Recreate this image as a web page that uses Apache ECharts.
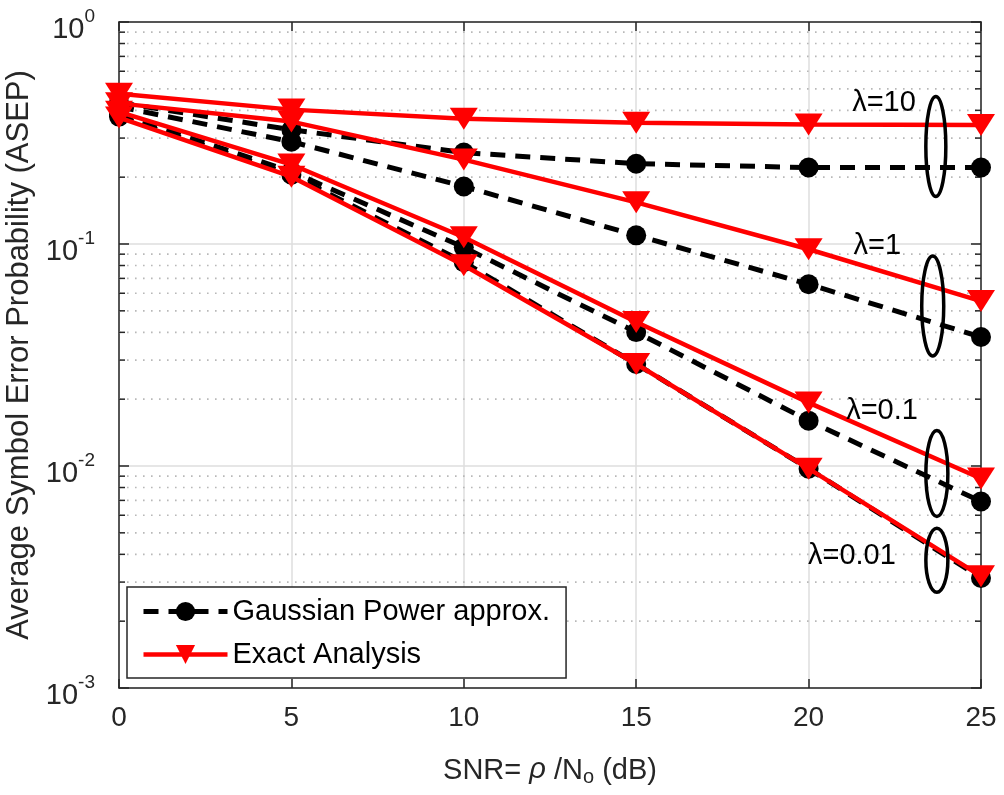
<!DOCTYPE html>
<html>
<head>
<meta charset="utf-8">
<script src="https://cdn.jsdelivr.net/npm/echarts@6/dist/echarts.min.js"></script>
<style>
  html, body { margin: 0; padding: 0; background: #fff; }
  #chart { width: 1004px; height: 795px; }
</style>
</head>
<body>
<div id="chart"></div>
<script>
// SNR grid (dB)
const snr = [0, 5, 10, 15, 20, 25];
const xTicks = [0, 5, 10, 15, 20, 25];
// decade exponents labelled on the ASEP axis
const yTickExponents = [-3, -2, -1, 0];

// Gaussian power approximation, one curve per lambda
const gaussL10  = [0.433, 0.327, 0.258, 0.230, 0.221, 0.221];
const gaussL1   = [0.415, 0.289, 0.1816, 0.1094, 0.0659, 0.0381];
const gaussL01  = [0.385, 0.212, 0.0966, 0.0401, 0.0160, 0.00692];
const gaussL001 = [0.375, 0.205, 0.0828, 0.0288, 0.00973, 0.00313];

// exact analysis, one curve per lambda
const exactL10  = [0.475, 0.403, 0.367, 0.352, 0.345, 0.344];
const exactL1   = [0.430, 0.356, 0.240, 0.154, 0.0947, 0.0553];
const exactL01  = [0.394, 0.228, 0.1072, 0.0445, 0.0193, 0.00878];
const exactL001 = [0.371, 0.201, 0.0802, 0.0288, 0.00973, 0.00319];

// lambda annotations (data coordinates)
const lambdaLabels = ['λ=10', 'λ=1', 'λ=0.1', 'λ=0.01'];
const labelSnr  = [23.11, 22.68, 23.17, 22.53];
const labelAsep = [0.433, 0.0977, 0.01774, 0.00392];
const ringSnr   = [23.69, 23.60, 23.72, 23.72];
const ringAsep  = [0.2747, 0.0525, 0.00925, 0.00376];

const FONT = '"Liberation Sans", Arial, Helvetica, sans-serif';
const AXIS_COLOR = '#262626';
const ringRadius = [[10, 50], [11, 50], [11, 43], [11, 32]];

const minorValues = [];
[-3, -2, -1].forEach(function (e) {
  [2, 3, 4, 5, 6, 7, 8, 9].forEach(function (m) {
    minorValues.push(m * Math.pow(10, e));
  });
});

function pairs(values) {
  return snr.map(function (x, i) { return [x, values[i]]; });
}

const GAUSS = 'Gaussian Power approx.';
const EXACT = 'Exact Analysis';
const triangleDown = 'path://M0,0L28,0L14,22Z';

function gaussSeries(values) {
  return {
    name: GAUSS, type: 'line', data: pairs(values),
    symbol: 'circle', symbolSize: 20, showSymbol: true, clip: false,
    lineStyle: { color: '#000', width: 5, type: [15, 10] },
    itemStyle: { color: '#000' },
    emphasis: { disabled: true }, z: 3
  };
}
function exactSeries(values) {
  return {
    name: EXACT, type: 'line', data: pairs(values),
    symbol: triangleDown, symbolSize: [28, 22], showSymbol: true, clip: false,
    lineStyle: { color: '#ff0000', width: 4.5, type: 'solid' },
    itemStyle: { color: '#ff0000' },
    emphasis: { disabled: true }, z: 4
  };
}

const chart = echarts.init(document.getElementById('chart'), null, { renderer: 'canvas' });

const xAxisBase = {
  type: 'value', min: 0, max: 25, interval: 5,
  axisLine: { show: true, onZero: false, lineStyle: { color: AXIS_COLOR, width: 1.5 } },
  axisTick: { show: true, inside: true, length: 9, lineStyle: { color: AXIS_COLOR, width: 1.5 } }
};
const yAxisBase = {
  type: 'log', logBase: 10, min: 0.001, max: 1,
  axisLine: { show: true, onZero: false, lineStyle: { color: AXIS_COLOR, width: 1.5 } },
  axisTick: { show: true, inside: true, length: 10, lineStyle: { color: AXIS_COLOR, width: 1.5 } }
};

chart.setOption({
  animation: false,
  backgroundColor: '#fff',
  textStyle: { fontFamily: FONT },
  grid: { left: 119, right: 23, top: 22, bottom: 107, containLabel: false, outerBoundsMode: 'none' },
  xAxis: [
    Object.assign({}, xAxisBase, {
      position: 'bottom',
      name: 'SNR= {i|ρ} /N{sub|o} (dB)',
      nameLocation: 'middle', nameGap: 67,
      nameTextStyle: {
        fontSize: 29, color: AXIS_COLOR, fontFamily: FONT,
        rich: {
          i: { fontSize: 29, fontStyle: 'italic', fontFamily: FONT, color: AXIS_COLOR, verticalAlign: 'top', lineHeight: 32 },
          sub: { fontSize: 20, fontFamily: FONT, color: AXIS_COLOR, verticalAlign: 'bottom', lineHeight: 20, padding: [22, 0, 0, 0] }
        }
      },
      axisLabel: {
        show: true, margin: 16, fontSize: 28, color: AXIS_COLOR, fontFamily: FONT,
        formatter: function (v) { return xTicks.indexOf(v) >= 0 ? String(v) : ''; }
      },
      splitLine: { show: true, lineStyle: { color: '#dedede', width: 1.5 } }
    }),
    Object.assign({}, xAxisBase, {
      position: 'top',
      axisLabel: { show: false },
      splitLine: { show: false }
    })
  ],
  yAxis: [
    Object.assign({}, yAxisBase, {
      position: 'left',
      name: 'Average Symbol Error Probability (ASEP)',
      nameLocation: 'middle', nameGap: 82, nameRotate: 90,
      nameTextStyle: { fontSize: 31, color: AXIS_COLOR, fontFamily: FONT },
      axisLabel: {
        show: true, margin: 24, fontFamily: FONT,
        formatter: function (v) {
          const e = Math.round(Math.log10(v));
          if (yTickExponents.indexOf(e) < 0) return '';
          return '{b|10}{s|' + e + '}';
        },
        rich: {
          b: { fontSize: 29, fontFamily: FONT, color: AXIS_COLOR, lineHeight: 30, padding: [8, 0, 0, 0], verticalAlign: 'top' },
          s: { fontSize: 19, fontFamily: FONT, color: AXIS_COLOR, lineHeight: 20, verticalAlign: 'top' }
        }
      },
      splitLine: { show: true, lineStyle: { color: '#dedede', width: 1.5 } }
    }),
    Object.assign({}, yAxisBase, {
      position: 'right',
      axisLabel: { show: false },
      splitLine: { show: false }
    })
  ],
  legend: {
    data: [
      { name: GAUSS, lineStyle: { width: 5, type: [15, 10], color: '#000' } },
      { name: EXACT, lineStyle: { width: 4.5, type: 'solid', color: '#ff0000' } }
    ],
    orient: 'vertical', left: 127, top: 587,
    padding: [10, 16, 9, 14],
    itemWidth: 84, itemHeight: 24, itemGap: 14,
    backgroundColor: '#fff', borderColor: AXIS_COLOR, borderWidth: 1.5,
    textStyle: { fontSize: 29, color: '#000', fontFamily: FONT },
    selectedMode: false
  },
  series: [
    {
      // minor log grid and minor ticks on both vertical axes
      type: 'custom', name: 'minor-grid', silent: true, z: 1,
      xAxisIndex: 0, yAxisIndex: 0,
      data: minorValues.map(function (v) { return [0, v]; }),
      renderItem: function (params, api) {
        const v = api.value(1);
        const a = api.coord([0, v]);
        const b = api.coord([25, v]);
        return {
          type: 'group',
          children: [
            { type: 'line', shape: { x1: a[0], y1: a[1], x2: b[0], y2: b[1] },
              style: { stroke: '#b8b8b8', lineWidth: 1.6, lineDash: [1.6, 6.4] } },
            { type: 'line', shape: { x1: a[0], y1: a[1], x2: a[0] + 6, y2: a[1] },
              style: { stroke: AXIS_COLOR, lineWidth: 1.5 } },
            { type: 'line', shape: { x1: b[0] - 6, y1: b[1], x2: b[0], y2: b[1] },
              style: { stroke: AXIS_COLOR, lineWidth: 1.5 } }
          ]
        };
      }
    },
    gaussSeries(gaussL10),
    gaussSeries(gaussL1),
    gaussSeries(gaussL01),
    gaussSeries(gaussL001),
    exactSeries(exactL10),
    exactSeries(exactL1),
    exactSeries(exactL01),
    exactSeries(exactL001),
    {
      // lambda labels with the rings grouping each pair of curves
      type: 'custom', name: 'lambda-notes', silent: true, z: 6, clip: false,
      xAxisIndex: 0, yAxisIndex: 0,
      data: lambdaLabels.map(function (t, i) { return [labelSnr[i], labelAsep[i], ringSnr[i], ringAsep[i]]; }),
      renderItem: function (params, api) {
        const i = params.dataIndex;
        const t = api.coord([api.value(0), api.value(1)]);
        const r = api.coord([api.value(2), api.value(3)]);
        return {
          type: 'group',
          children: [
            { type: 'ellipse', shape: { cx: r[0], cy: r[1], rx: ringRadius[i][0], ry: ringRadius[i][1] },
              style: { fill: 'none', stroke: '#000', lineWidth: 3.5 } },
            { type: 'text', x: t[0], y: t[1],
              style: { text: lambdaLabels[i], fill: '#000', font: '29px ' + FONT, align: 'right', verticalAlign: 'middle' } }
          ]
        };
      }
    }
  ]
});
</script>
</body>
</html>
